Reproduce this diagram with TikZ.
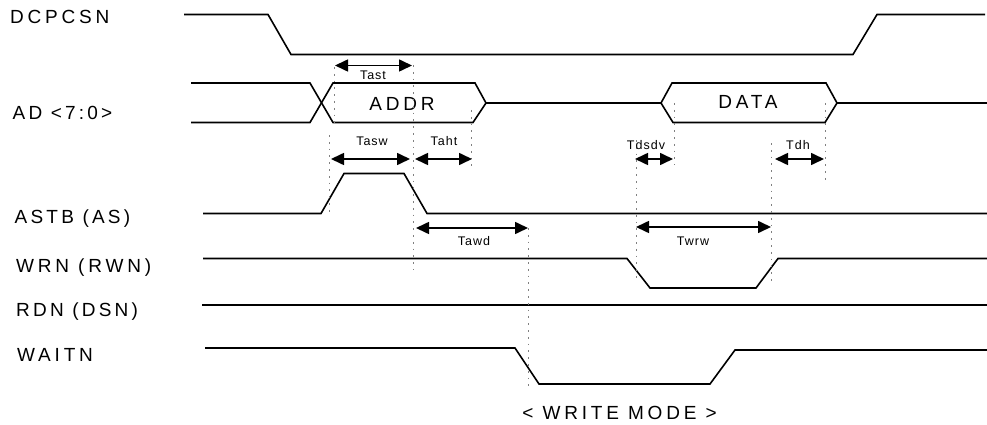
\documentclass[tikz,border=0pt]{standalone}
\usepackage{fontspec}
\newfontfamily\signame[LetterSpace=17]{Liberation Sans}
\newfontfamily\signamewide[LetterSpace=20]{Liberation Sans}
\newfontfamily\timname[LetterSpace=8]{Liberation Sans}
\usetikzlibrary{arrows.meta}
\tikzset{
  sig/.style={line width=1.6pt,color=black},
  guide/.style={gray,line width=0.9pt,dash pattern=on 1.8pt off 5pt},
  tim/.style={line width=1.6pt,{Triangle[length=13pt,width=12pt]}-{Triangle[length=13pt,width=12pt]}},
  signame/.style={anchor=base west,inner sep=0pt,font=\fontsize{19}{21}\signame},
  signamewide/.style={anchor=base west,inner sep=0pt,font=\fontsize{19}{21}\signamewide},
  timname/.style={anchor=base,inner sep=0pt,font=\fontsize{12.5}{14}\timname}
}
\begin{document}
\begin{tikzpicture}[x=1pt,y=-1pt]
  \useasboundingbox (0,0) rectangle (987,425);
  % signal names
  \node[signamewide] (dcpcsn) at (10,24) {DCPCSN};
  \node[signame] (ad) at (12.5,119.5) {AD <7:0>};
  \node[signame] (astb) at (14.5,223.5) {ASTB (AS)};
  \node[signamewide] (wrn) at (16,272) {WRN (RWN)};
  \node[signame] (rdn) at (16,316) {RDN (DSN)};
  \node[signamewide] (waitn) at (17,361.5) {WAITN};
  \node[signamewide,anchor=base] (addr) at (402,111) {ADDR};
  \node[signamewide,anchor=base] (data) at (748,109) {DATA};
  \node[signamewide,anchor=base] (mode) at (619.5,419) {< WRITE MODE >};
  % waveforms
  \draw[sig] (184,14.5) -- (268,14.5) -- (291,54.5) -- (853,54.5) -- (877,14.5) -- (985,14.5);
  \draw[sig] (191,83) -- (310,83) -- (333,122.5) -- (473,122.5) -- (486,103) -- (661,103) -- (673,122.5) -- (825,122.5) -- (837,103) -- (987,103);
  \draw[sig] (191,122.5) -- (310,122.5) -- (333,83) -- (475,83) -- (486,103);
  \draw[sig] (661,103) -- (672,83) -- (826,83) -- (837,103);
  \draw[sig] (203,213.5) -- (321,213.5) -- (344,173.5) -- (404,173.5) -- (427,213.5) -- (987,213.5);
  \draw[sig] (203,258.5) -- (627,258.5) -- (650,288) -- (756,288) -- (778,258.5) -- (987,258.5);
  \draw[sig] (202,305.2) -- (987,305.2);
  \draw[sig] (205,348) -- (515,348) -- (539,384) -- (710,384) -- (735,350) -- (987,350);
  % guide lines
  \foreach \x/\ya/\yb in {334/67/127,413/65/270,329/135/213,471/110/169,528/228/388,674/103/165,636/140/280,771/143/285,825/103/180}
    \draw[guide] (\x,\ya) -- (\x,\yb);
  % timing arrows
  \foreach \name/\xa/\xb/\yy/\lx/\ly in {Tast/335/412/65.5/373/79.3,Tasw/331/410/159/372/145,Taht/415/472/159/444/146,Tawd/416/528/228/474/245,Tdsdv/635/673/159/646/149,Tdh/775/824/159/798/149,Twrw/636/771/227/693/245}{
    \coordinate (\name a) at (\xa,\yy);
    \coordinate (\name b) at (\xb,\yy);
    \draw[tim] (\name a) -- (\name b);
    \node[timname] (\name) at (\lx,\ly) {\name};
  }
\end{tikzpicture}
\end{document}
